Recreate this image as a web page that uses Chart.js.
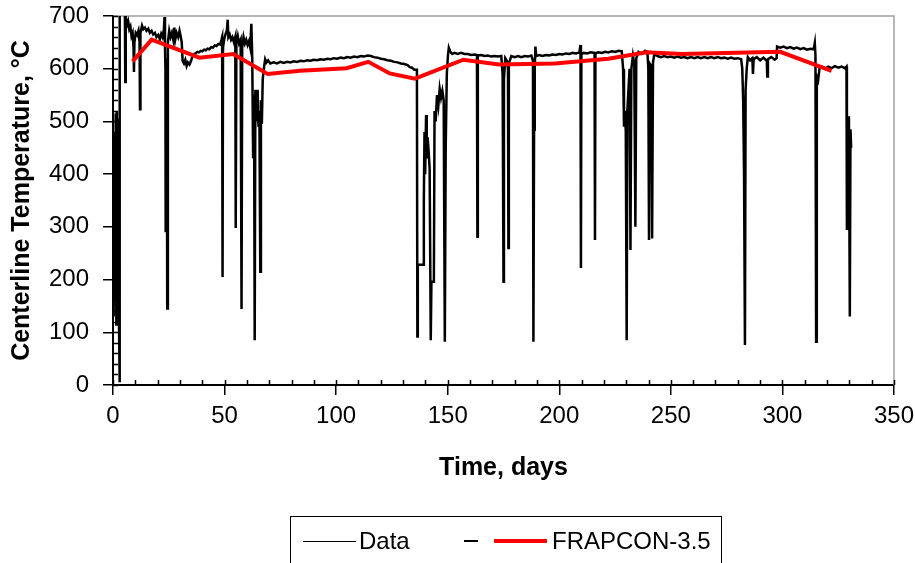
<!DOCTYPE html>
<html>
<head>
<meta charset="utf-8">
<title>Centerline temperature</title>
<script src="https://cdn.jsdelivr.net/npm/chart.js@4.4.0/dist/chart.umd.min.js"></script>
<style>
    html, body { margin: 0; padding: 0; background: #fff; }
    #wrap { position: relative; width: 915px; height: 563px; overflow: hidden; }
    #chart { position: absolute; left: 0; top: 0; }

    /* legend box, cut off by the bottom edge like the original */
    #legend {
        position: absolute; left: 290px; top: 516px; width: 432px; height: 64px;
        border: 1.5px solid #000; box-sizing: border-box;
        font-family: "Liberation Sans", Arial, sans-serif; font-size: 24px; color: #000;
    }
    #legend .txt { position: absolute; top: 10px; line-height: 28px; white-space: nowrap; }
    #legend .ln { position: absolute; }
</style>
</head>
<body>
<div id="wrap">
    <canvas id="chart" width="915" height="563"></canvas>
    <div id="legend">
        <div class="ln" style="left:12px; top:23.5px; width:53px; height:1.5px; background:#000;"></div>
        <div class="txt" style="left:68px;">Data</div>
        <div class="ln" style="left:173px; top:23px; width:14px; height:2px; background:#000;"></div>
        <div class="ln" style="left:203px; top:22px; width:53px; height:4px; background:#ff0000;"></div>
        <div class="txt" style="left:261px;">FRAPCON-3.5</div>
    </div>
</div>

<script>
/* ================= DATA ================= */
// measured centerline temperature (days, °C)
const dataDays = [
    0.3, 0.5, 0.7, 0.9, 1.1, 1.3, 1.5, 1.7, 1.9, 2.1, 2.3, 2.5, 2.7, 2.9, 3.0, 3.1,
    5.3, 5.5, 5.7, 6.2, 6.8, 7.3, 7.8, 8.3, 8.8, 9.2, 9.4, 9.6, 10.2, 10.8, 11.4, 11.9,
    12.1, 12.3, 13.0, 13.6, 14.3, 15.0, 15.8, 16.5, 17.3, 18.0, 18.8, 19.5, 20.3, 21.0,
    21.6, 22.2, 22.8, 23.1, 23.3, 23.5, 23.6, 23.8, 24.1, 24.3, 24.6, 25.2, 25.8, 26.4,
    27.0, 27.5, 27.9, 28.5, 29.2, 29.8, 30.3, 30.8, 31.2, 31.8, 32.4, 33.0, 33.6, 34.3,
    35.0, 35.6, 36.3, 37.0, 37.8, 38.5, 39.3, 40.0, 40.8, 41.6, 42.4, 43.2, 44.0, 44.8,
    45.6, 46.4, 47.2, 48.0, 48.6, 48.9, 49.1, 49.3, 49.8, 50.4, 51.0, 51.4, 51.7, 52.3,
    52.9, 53.5, 54.2, 54.8, 55.0, 55.3, 55.9, 56.5, 57.2, 57.6, 57.9, 58.5, 59.1, 59.7,
    60.3, 60.9, 61.5, 62.0, 62.4, 62.8, 63.2, 63.5, 63.8, 64.3, 64.8, 65.2, 65.6, 66.0,
    66.3, 66.7, 67.1, 67.6, 68.2, 68.8, 69.5,
    70.5, 72, 73.5, 75, 76.5, 78, 79.5, 81, 82.5, 84, 85.5, 87, 88.5, 90, 91.5, 93,
    94.5, 96, 97.5, 99, 100.5, 102, 103.5, 105, 106.5, 108, 109.5, 111, 112.5, 114,
    115.5, 117, 118.5, 120, 121.5, 123, 124.5, 126, 127.5, 129, 130.5, 132, 133, 134,
    135, 136.2, 136.4, 136.6, 139.0, 139.3, 139.6, 139.9, 140.3, 140.6, 141.0, 141.5,
    141.9, 142.4, 142.7, 143.8, 144.1, 144.6, 145.2, 145.8, 146.4, 147.0, 147.6, 148.2,
    148.7, 149.1, 149.6, 150.1, 150.5, 151.2, 152.0,
    153, 154.5, 156, 157.5, 159, 160.5, 162, 163.1, 163.3, 163.5, 165, 166.5, 168,
    169.5, 171, 172.5, 174, 174.6, 175.0, 175.2, 175.8, 176.5, 177.0, 177.2, 177.4,
    178.5, 180, 181.5, 183, 184.5, 186, 187.5, 188.2, 188.4, 188.7, 189.0, 189.3, 189.7,
    191, 192.5, 194, 195.5, 197, 198.5, 200, 201.5, 203, 204.5, 206, 207.5, 209, 209.5,
    209.7, 209.9, 211, 212.5, 214, 215.8, 216.0, 216.2, 217.5, 219, 220.5, 222, 223.5,
    225, 226.5, 228.0, 228.6, 229.0, 229.4, 229.8, 230.2, 230.5, 231.0, 231.5, 231.9,
    232.3, 233.0, 233.6, 234.1, 234.5, 235.5, 237, 238.5, 239.5, 239.9, 240.2, 240.5,
    241.2, 241.6, 242.0, 242.6,
    244, 245.5, 247, 248.5, 250, 251.5, 253, 254.5, 256, 257.5, 259, 260.5, 262, 263.5,
    265, 266.5, 268, 269.5, 271, 272.5, 274, 275.5, 277, 278.5, 280, 281.5, 282.0, 282.4,
    282.8, 283.2, 283.5, 284.0, 284.5, 285.5, 286.5, 286.8, 287.1, 288.5, 290, 291.5,
    293.0, 293.2, 293.5, 295, 296.5, 297.4, 297.6, 299, 300.5, 302, 303.5, 305, 306.5,
    308, 309.5, 311, 312.5, 314.0, 314.5, 314.8, 315.1, 315.4, 316.0, 316.6, 317.5, 319,
    320.5, 322, 323.5, 325, 326.5, 328.0, 328.7, 328.9, 329.2, 329.5, 329.8, 330.2,
    330.5, 330.8
];
const dataTemps = [
    130, 420, 160, 480, 210, 515, 115, 520, 300, 505, 180, 470, 110, 300, 5, 730,
    730, 575, 700, 682, 690, 675, 680, 662, 668, 640, 594, 650, 668, 664, 672, 650,
    523, 668, 682, 675, 678, 672, 676, 668, 672, 665, 668, 660, 664, 656,
    666, 660, 675, 698, 640, 600, 290, 560, 620, 145, 650, 672, 660, 668,
    655, 678, 655, 668, 660, 672, 662, 650, 615, 610, 617, 605, 612, 608,
    615, 624, 628, 629, 632, 631, 634, 633, 636, 635, 638, 637, 641, 640,
    644, 643, 647, 646, 655, 660, 205, 640, 655, 665, 672, 693, 660, 665,
    655, 660, 650, 660, 298, 650, 662, 648, 655, 144, 640, 660, 648, 655,
    645, 652, 640, 685, 620, 430, 550, 85, 560, 500, 560, 490, 520, 215,
    540, 495, 580, 600, 618, 612, 616,
    610, 612, 610, 613, 611, 613, 612, 614, 613, 615, 614, 616, 615, 617, 616, 618,
    617, 619, 618, 620, 619, 621, 620, 622, 621, 623, 622, 624, 623, 625,
    624, 622, 621, 619, 618, 616, 615, 613, 612, 610, 609, 607, 603, 602,
    598, 598, 92, 228, 228, 350, 480, 400, 512, 430, 470, 440,
    410, 85, 196, 196, 520, 500, 550, 530, 562, 545, 558, 540,
    82, 450, 590, 625, 640, 632, 628,
    630, 628, 630, 628, 628, 626, 627, 626, 281, 625, 626, 624, 625,
    623, 624, 623, 624, 590, 196, 580, 620, 615, 600, 260, 610,
    624, 622, 624, 622, 624, 623, 625, 615, 82, 484, 600, 642, 624,
    626, 624, 626, 625, 627, 626, 628, 627, 629, 628, 630, 629, 631, 645,
    222, 628, 630, 629, 631, 630, 275, 629, 631, 630, 632, 631, 633,
    632, 634, 633, 600, 490, 520, 480, 85, 520, 560, 600, 256,
    600, 625, 610, 300, 620, 632, 628, 634, 632, 600, 275, 610,
    605, 278, 612, 628,
    624, 622, 624, 622, 623, 621, 623, 621, 622, 620, 622, 620, 622, 620,
    622, 620, 622, 620, 622, 620, 621, 619, 621, 619, 620, 618, 600, 540,
    400, 76, 560, 600, 622, 616, 620, 590, 618, 622, 616, 621,
    615, 585, 618, 622, 617, 620, 642, 640, 642, 639, 641, 638, 640,
    637, 639, 636, 638, 637, 649, 625, 82, 585, 578, 600, 604, 600,
    604, 601, 605, 602, 604, 601, 604, 294, 500, 455, 510, 130,
    485, 450
];

// FRAPCON-3.5 prediction
const frapDays = [8.8, 17.3, 38.7, 53.9, 69.3, 83.8, 104.7, 114.4, 124, 135.3, 157, 173, 198, 222, 239, 255, 299, 322];
const frapTemps = [614, 655, 621, 628, 590, 596, 601, 613, 591, 581, 617, 608, 610, 619, 631, 628, 632, 596];

// axes
const xMin = 0, xMax = 350, xStep = 50, xMinorStep = 10;
const yMin = 0, yMax = 700, yStep = 100, yMinorStep = 20;

/* ================= HELPERS ================= */
const FONT = '"Liberation Sans", Arial, sans-serif';

function toPoints(xs, ys) {
    return xs.map((d, i) => ({ x: d, y: ys[i] }));
}

// gray frame on top/right + small inward ticks like the excel original
const frameTicks = {
    id: "frameTicks",
    beforeDatasetsDraw(chart) {
        const { ctx, chartArea: a, scales } = chart;
        ctx.save();
        ctx.strokeStyle = "#a0a0a0";
        ctx.lineWidth = 1.5;
        ctx.beginPath();
        ctx.moveTo(a.left, a.top);
        ctx.lineTo(a.right, a.top);
        ctx.lineTo(a.right, a.bottom);
        ctx.stroke();

        ctx.strokeStyle = "#000";
        ctx.lineWidth = 1.5;
        ctx.beginPath();
        for (let v = yMin; v <= yMax; v += yMinorStep) {
            const py = Math.round(scales.y.getPixelForValue(v)) + 0.5;
            ctx.moveTo(a.left, py);
            ctx.lineTo(a.left + 5, py);
        }
        for (let v = xMin; v <= xMax; v += xMinorStep) {
            const px = Math.round(scales.x.getPixelForValue(v)) + 0.5;
            ctx.moveTo(px, a.bottom);
            ctx.lineTo(px, a.bottom - 5);
        }
        ctx.stroke();
        ctx.restore();
    }
};

/* ================= CHART ================= */
new Chart(document.getElementById("chart"), {
    type: "line",
    data: {
        datasets: [
            {
                label: "Data",
                data: toPoints(dataDays, dataTemps),
                borderColor: "#000",
                borderWidth: 2.5,
                pointRadius: 0,
                tension: 0,
                order: 2
            },
            {
                label: "FRAPCON-3.5",
                data: toPoints(frapDays, frapTemps),
                borderColor: "#ff0000",
                borderWidth: 4,
                pointRadius: 0,
                tension: 0,
                order: 1
            }
        ]
    },
    options: {
        responsive: false,
        animation: false,
        devicePixelRatio: 1,
        layout: { padding: { top: 16, right: 21, bottom: 80, left: 0 } },
        plugins: {
            legend: { display: false },
            tooltip: { enabled: false }
        },
        scales: {
            x: {
                type: "linear",
                min: xMin,
                max: xMax,
                afterFit(s) { s.height = 98; s.paddingLeft = 0; s.paddingRight = 0; },
                ticks: { stepSize: xStep, padding: 7, color: "#000", font: { family: FONT, size: 24 } },
                grid: { drawOnChartArea: false, drawTicks: true, tickLength: 10, color: "#000", lineWidth: 1.5 },
                border: { color: "#000", width: 2 },
                title: {
                    display: true,
                    text: "Time, days",
                    color: "#000",
                    font: { family: FONT, size: 25, weight: "bold" },
                    padding: { top: 0, bottom: 0 }
                }
            },
            y: {
                min: yMin,
                max: yMax,
                afterFit(s) { s.width = 113; s.paddingTop = 0; s.paddingBottom = 0; },
                ticks: { stepSize: yStep, padding: 14, color: "#000", font: { family: FONT, size: 24 } },
                grid: { drawOnChartArea: false, drawTicks: true, tickLength: 10, color: "#000", lineWidth: 1.5 },
                border: { color: "#000", width: 2 },
                title: {
                    display: true,
                    text: "Centerline Temperature, °C",
                    color: "#000",
                    font: { family: FONT, size: 25, weight: "bold" },
                    padding: { top: 7, bottom: 0 }
                }
            }
        }
    },
    plugins: [frameTicks]
});
</script>
</body>
</html>
